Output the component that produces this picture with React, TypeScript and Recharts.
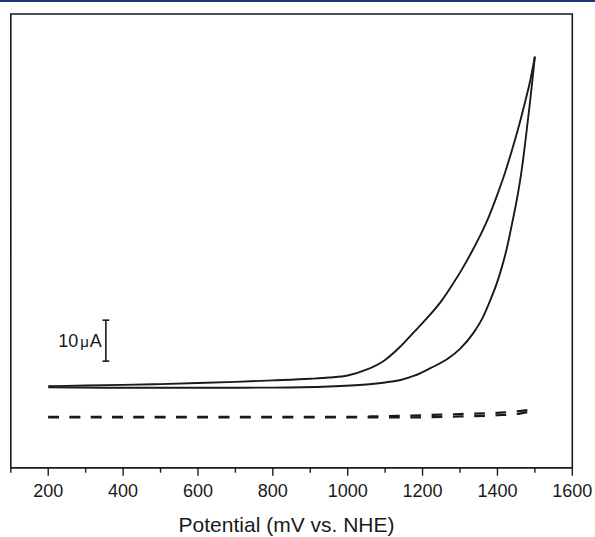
import React from 'react';
import { LineChart, Line, XAxis, YAxis, ReferenceArea, ReferenceLine, Label } from 'recharts';

// upper branch of the CV loop (rises first, near 1000 mV)
const upperPotential = [200, 300, 400, 500, 600, 700, 800, 900, 950, 1000, 1050, 1100, 1140, 1175, 1210, 1252, 1280, 1309, 1335, 1359, 1376, 1396, 1420, 1439, 1458, 1474, 1488, 1500];
const upperCurrent = [0.2, 0.35, 0.5, 0.7, 0.95, 1.25, 1.6, 2.0, 2.3, 2.8, 4.2, 6.6, 9.8, 13.2, 16.6, 21.2, 25.0, 29.3, 33.6, 37.9, 41.3, 46.0, 52.2, 57.8, 63.9, 69.6, 74.9, 80.6];

// lower branch
const lowerPotential = [200, 400, 600, 800, 950, 1050, 1100, 1141, 1180, 1221, 1269, 1300, 1336, 1360, 1381, 1398, 1412, 1424, 1434, 1445, 1455, 1463, 1470, 1478, 1486, 1493, 1500];
const lowerCurrent = [-0.1, -0.2, -0.2, -0.15, 0.1, 0.6, 1.1, 1.7, 2.8, 4.6, 7.0, 9.3, 13.2, 16.8, 21.2, 25.2, 29.3, 33.4, 37.6, 42.5, 47.3, 51.8, 56.5, 62.5, 68.7, 74.5, 80.6];

// blank (dashed) scans
const blankPotential = [200, 400, 600, 800, 1000, 1100, 1200, 1300, 1400, 1460, 1500];
const blankCurrentA = [-7.3, -7.3, -7.3, -7.3, -7.3, -7.1, -6.9, -6.6, -6.3, -5.9, -5.4];
const blankCurrentB = [-7.4, -7.4, -7.4, -7.4, -7.4, -7.4, -7.4, -7.2, -6.9, -6.5, -5.7];

const majorTicks = [200, 400, 600, 800, 1000, 1200, 1400, 1600];
const minorTicks = [100, 300, 500, 700, 900, 1100, 1300, 1500];
const allTicks = [...majorTicks, ...minorTicks].sort((a, b) => a - b);

const xDomain = [100, 1600];
const yDomain = [-19.7, 91];

// 10 uA scale bar
const scaleBarX = 354;
const scaleBarY = [6.3, 16.3];

const toPoints = (xs: number[], ys: number[]) => xs.map((mV, i) => ({ mV, uA: ys[i] }));

const ink = '#1a1a1a';
const font = '"Liberation Sans", Arial, sans-serif';

const AxisTick = ({ x, y, payload }: any) => {
  const major = majorTicks.includes(payload.value);
  return (
    <g>
      <line x1={x} x2={x} y1={y} y2={y + (major ? 8 : 5)} stroke={ink} strokeWidth={1.4} />
      {major && (
        <text x={x} y={y + 29} textAnchor="middle" fontSize={18} fill={ink} fontFamily={font}>
          {payload.value}
        </text>
      )}
    </g>
  );
};

const ScaleLabel = ({ viewBox }: any) => {
  const x = viewBox.x - 4;
  const y = viewBox.y + viewBox.height / 2 + 6.5;
  return (
    <text x={x} y={y} textAnchor="end" fontSize={18} fill={ink} fontFamily={font}>
      10<tspan fontSize={15} dx={2}>μ</tspan>
      <tspan dx={1}>A</tspan>
    </text>
  );
};

export default function App() {
  const capHalf = 9;
  return (
    <div style={{ position: 'relative', width: 595, height: 537, background: '#fff' }}>
      <style>{'body{margin:0}'}</style>
      <div style={{ position: 'absolute', top: 0, left: 0, width: 595, height: 2, background: '#26337c' }} />
      <LineChart width={595} height={537} margin={{ top: 14, right: 22.7, left: 10.8, bottom: 0 }}>
        <XAxis
          type="number"
          dataKey="mV"
          domain={xDomain}
          ticks={allTicks}
          interval={0}
          tickSize={0}
          tickMargin={0}
          tickLine={false}
          tick={<AxisTick />}
          height={69.3}
          axisLine={{ stroke: ink, strokeWidth: 1.6 }}
          allowDataOverflow
        >
          <Label
            value="Potential (mV vs. NHE)"
            position="insideBottom"
            offset={5}
            dx={-5}
            fontSize={21}
            fill={ink}
            fontFamily={font}
          />
        </XAxis>
        <YAxis type="number" domain={yDomain} hide allowDataOverflow />
        <ReferenceArea
          x1={xDomain[0]}
          x2={xDomain[1]}
          y1={yDomain[0]}
          y2={yDomain[1]}
          fill="none"
          stroke={ink}
          strokeWidth={1.6}
          ifOverflow="visible"
        />
        <Line data={toPoints(upperPotential, upperCurrent)} dataKey="uA" type="monotone" stroke={ink} strokeWidth={1.9} dot={false} isAnimationActive={false} />
        <Line data={toPoints(lowerPotential, lowerCurrent)} dataKey="uA" type="monotone" stroke={ink} strokeWidth={1.9} dot={false} isAnimationActive={false} />
        <Line data={toPoints(blankPotential, blankCurrentA)} dataKey="uA" type="monotone" stroke={ink} strokeWidth={2.2} strokeDasharray="10.7 10.6" dot={false} isAnimationActive={false} />
        <Line data={toPoints(blankPotential, blankCurrentB)} dataKey="uA" type="monotone" stroke={ink} strokeWidth={2.2} strokeDasharray="10.7 10.6" dot={false} isAnimationActive={false} />
        <ReferenceLine
          segment={[{ x: scaleBarX, y: scaleBarY[0] }, { x: scaleBarX, y: scaleBarY[1] }]}
          stroke={ink}
          strokeWidth={1.6}
          label={<ScaleLabel />}
        />
        <ReferenceLine segment={[{ x: scaleBarX - capHalf, y: scaleBarY[0] }, { x: scaleBarX + capHalf, y: scaleBarY[0] }]} stroke={ink} strokeWidth={1.6} />
        <ReferenceLine segment={[{ x: scaleBarX - capHalf, y: scaleBarY[1] }, { x: scaleBarX + capHalf, y: scaleBarY[1] }]} stroke={ink} strokeWidth={1.6} />
      </LineChart>
    </div>
  );
}
